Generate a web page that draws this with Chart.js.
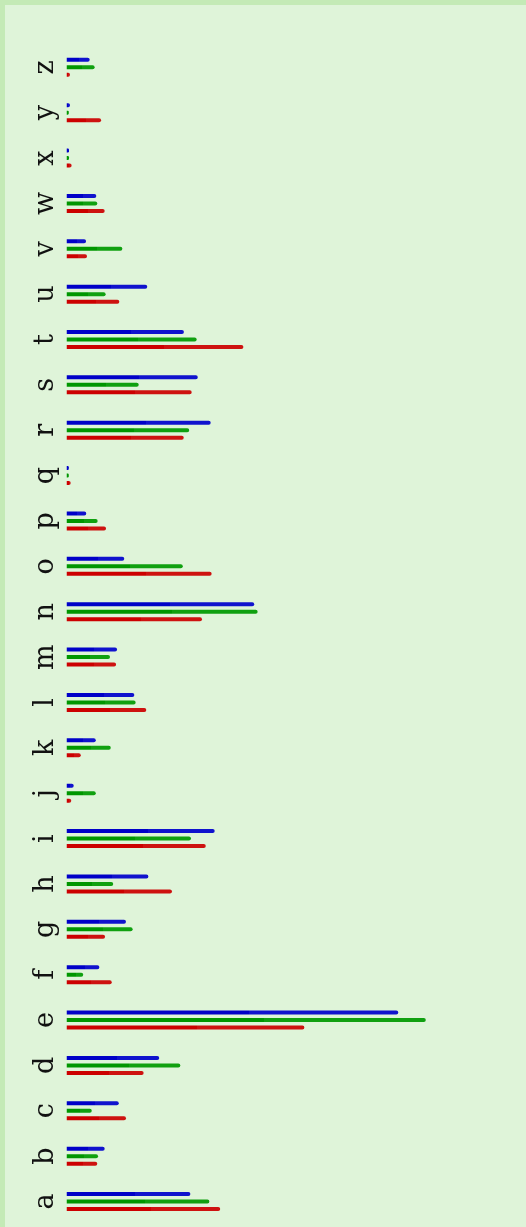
<!DOCTYPE html>
<html>
<head>
<meta charset="utf-8">
<script src="https://cdn.jsdelivr.net/npm/chart.js@4"></script>
<style>
  html, body { margin: 0; padding: 0; background: #c4eab6; }
  #wrap { position: absolute; left: 5px; top: 5px; width: 521px; height: 1222px; background: #dff4d9; }
</style>
</head>
<body>
<div id="wrap"><canvas id="mycanvas"></canvas></div>
<script>
// letter frequencies (%)
var letters = ['a','b','c','d','e','f','g','h','i','j','k','l','m','n','o','p','q','r','s','t','u','v','w','x','y','z'];
var blueVals = [6.52, 2.01, 2.75, 4.88, 17.46, 1.73, 3.13, 4.31, 7.80, 0.38, 1.54, 3.57, 2.66,
                9.88, 3.04, 1.04, 0.12, 7.59, 6.91, 6.18, 4.25, 1.03, 1.57, 0.13, 0.18, 1.22];
var greenVals = [7.52, 1.66, 1.33, 5.99, 18.91, 0.88, 3.48, 2.46, 6.55, 1.54, 2.33, 3.64, 2.29,
                 10.06, 6.12, 1.64, 0.12, 6.46, 3.80, 6.85, 2.06, 2.94, 1.62, 0.13, 0.12, 1.48];
var redVals = [8.09, 1.62, 3.13, 4.06, 12.52, 2.38, 2.03, 5.55, 7.33, 0.25, 0.75, 4.20, 2.61,
               7.13, 7.64, 2.08, 0.22, 6.17, 6.59, 9.31, 2.78, 1.08, 2.01, 0.27, 1.82, 0.18];

// bar colour: darker first part, slightly lighter rest
function shade(dark, light) {
	return function(ctx) {
		var chart = ctx.chart;
		if (!chart.chartArea || ctx.type !== 'data') return dark;
		var x0 = chart.scales.x.getPixelForValue(0);
		var x1 = chart.scales.x.getPixelForValue(ctx.raw);
		if (x1 - x0 < 3) return dark;
		var g = chart.ctx.createLinearGradient(x0, 0, x1, 0);
		g.addColorStop(0, dark);
		g.addColorStop(0.55, dark);
		g.addColorStop(0.55, light);
		g.addColorStop(1, light);
		return g;
	};
}

function makeSet(label, vals, dark, light) {
	return {
		label: label,
		data: vals,
		backgroundColor: shade(dark, light),
		borderWidth: 0,
		borderRadius: 2
	};
}

var ctx = document.getElementById('mycanvas');

var barGraph = new Chart(ctx, {
	type: 'bar',
	data: {
		labels: letters,
		datasets: [
			makeSet('blue', blueVals, '#0000c8', 'rgba(0,0,204,0.93)'),
			makeSet('green', greenVals, '#009600', 'rgba(0,153,0,0.93)'),
			makeSet('red', redVals, '#cc0000', 'rgba(204,0,0,0.93)')
		]
	},
	options: {
		indexAxis: 'y',
		responsive: true,
		maintainAspectRatio: false,
		animation: false,
		categoryPercentage: 0.496,
		barPercentage: 0.533,
		layout: { padding: { top: 39.6, bottom: 2.8, right: 3.5, left: 0 } },
		plugins: {
			legend: { display: false },
			tooltip: { enabled: false }
		},
		scales: {
			x: {
				display: false,
				min: 0,
				max: 24
			},
			y: {
				reverse: true,
				grid: { display: false },
				border: { display: false },
				afterFit: function(scale) {
					scale.width = 61.5;
					scale.paddingTop = 0;
					scale.paddingBottom = 0;
				},
				ticks: {
					minRotation: 90,
					maxRotation: 90,
					crossAlign: 'center',
					padding: 0,
					color: '#111',
					font: { family: 'DejaVu Serif', size: 27 }
				}
			}
		}
	}
});
</script>
</body>
</html>
